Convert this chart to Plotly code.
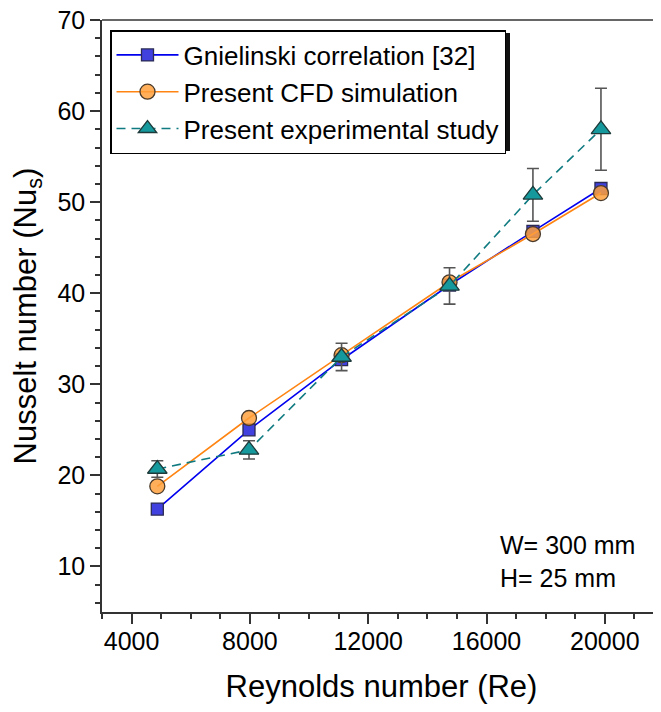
import plotly.graph_objects as go

# Data
reynolds = [4870, 7970, 11100, 14750, 17570, 19870]
nu_gnielinski = [16.3, 25.0, 32.7, 40.9, 46.8, 51.5]
nu_cfd = [18.8, 26.3, 33.2, 41.2, 46.5, 51.0]
nu_exp = [20.7, 22.8, 33.0, 40.8, 50.8, 58.0]
nu_exp_err = [0.9, 1.0, 1.5, 2.0, 2.9, 4.5]

x_ticks = [4000, 8000, 12000, 16000, 20000]
y_ticks = [10, 20, 30, 40, 50, 60, 70]

FONT = "Liberation Sans, Arial, Helvetica, sans-serif"
# page body has an 8px margin, so the figure sits at (8, 8) on the page
OFF = 8
W, H = 661 - OFF, 712 - 2 * OFF
ML, MR, MT, MB = 102 - OFF, 0, 20 - OFF, H - (612 - OFF)

fig = go.Figure()

fig.add_trace(go.Scatter(
    x=reynolds, y=nu_gnielinski, mode="lines+markers",
    name="Gnielinski correlation [32]",
    line=dict(color="#0000EE", width=1.6),
    marker=dict(symbol="square", size=12, color="#4141E0",
                line=dict(color="#2A2A55", width=1.3)),
))
fig.add_trace(go.Scatter(
    x=reynolds, y=nu_cfd, mode="lines+markers",
    name="Present CFD simulation",
    line=dict(color="#FF8411", width=1.6),
    marker=dict(symbol="circle", size=15, color="rgba(255,160,60,0.85)",
                line=dict(color="#4A3A2A", width=1.3)),
))
fig.add_trace(go.Scatter(
    x=reynolds, y=nu_exp, mode="lines+markers",
    name="Present experimental study",
    line=dict(color="#0F7A80", width=1.6, dash="9px,6px"),
    marker=dict(symbol="triangle-up", size=17, color="#16999C",
                line=dict(color="#1E3A3A", width=1.3)),
    error_y=dict(type="data", array=nu_exp_err, visible=True,
                 color="#555555", thickness=1.6, width=6),
))

pw = W - ML - MR
ph = H - MT - MB

def px_x(p):
    """page pixel x -> paper coordinate"""
    return (p - OFF - ML) / pw

def px_y(p):
    """page pixel y -> paper coordinate"""
    return (H - MB - (p - OFF)) / ph

# legend shadow (legend box approx. 110..507 x 30..148 on the page)
fig.add_shape(type="rect", xref="paper", yref="paper",
              x0=px_x(113), x1=px_x(510), y0=px_y(151), y1=px_y(33),
              fillcolor="#111111", line=dict(width=0), layer="below")
# top frame line
fig.add_shape(type="line", xref="paper", yref="paper",
              x0=0, x1=1, y0=1, y1=1,
              line=dict(color="#333333", width=1.6))

fig.add_annotation(
    xref="paper", yref="paper", x=px_x(498), y=px_y(561),
    xanchor="left", yanchor="middle", align="left", showarrow=False,
    text="W= 300 mm<br>H= 25 mm",
    font=dict(family=FONT, size=25, color="black"),
)

fig.update_layout(
    width=W, height=H,
    margin=dict(l=ML, r=MR, t=MT, b=MB, autoexpand=False),
    paper_bgcolor="white", plot_bgcolor="white",
    font=dict(family=FONT, size=25, color="black"),
    showlegend=True,
    legend=dict(
        x=px_x(110), y=px_y(30), xanchor="left", yanchor="top",
        bgcolor="white", bordercolor="black", borderwidth=1.5,
        font=dict(family=FONT, size=26, color="black"),
        itemwidth=62, tracegroupgap=0,
    ),
)

fig.update_xaxes(
    range=[3000, 21900], tickvals=x_ticks, ticktext=[str(v) for v in x_ticks],
    showgrid=False, zeroline=False,
    showline=True, linecolor="#333333", linewidth=1.6,
    ticks="outside", ticklen=10, tickwidth=1.6, tickcolor="#333333",
    ticklabelstandoff=-4, ticklabeloverflow="allow",
    minor=dict(dtick=1000, tick0=0, ticks="outside", ticklen=5,
               tickwidth=1.6, tickcolor="#333333", showgrid=False),
    tickfont=dict(family=FONT, size=25, color="black"),
    title=dict(text="Reynolds number (Re)", standoff=26,
               font=dict(family=FONT, size=31, color="black")),
)
fig.update_yaxes(
    range=[5, 70], tickvals=y_ticks, ticktext=[str(v) for v in y_ticks],
    showgrid=False, zeroline=False,
    showline=True, linecolor="#333333", linewidth=1.6,
    ticks="outside", ticklen=10, tickwidth=1.6, tickcolor="#333333",
    ticklabeloverflow="allow",
    minor=dict(dtick=2, tick0=0, ticks="outside", ticklen=5,
               tickwidth=1.6, tickcolor="#333333", showgrid=False),
    tickfont=dict(family=FONT, size=25, color="black"),
    title=dict(text="Nusselt number (Nu<sub>s</sub>)", standoff=19,
               font=dict(family=FONT, size=31, color="black")),
)

fig.write_html("out.html")
